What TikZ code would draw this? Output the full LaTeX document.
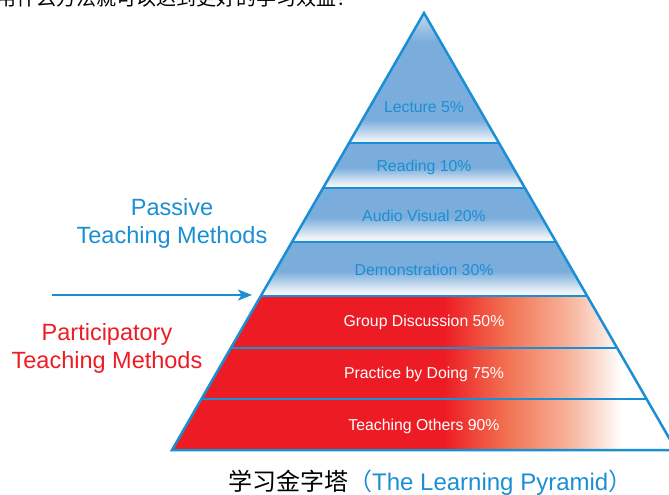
\documentclass[tikz,border=0pt]{standalone}
\usepackage{fontspec}
\setmainfont{Liberation Sans}
\newfontfamily\cjk{Noto Sans CJK SC}
\usetikzlibrary{calc,arrows.meta}
\definecolor{pblue}{HTML}{1A8FD3}
\definecolor{bandblue}{HTML}{7AADDC}
\definecolor{tipblue}{HTML}{C4D9EE}
\definecolor{paleblue}{HTML}{EEF3F8}
\definecolor{pred}{HTML}{ED1C24}
\definecolor{redA}{HTML}{F26F50}
\definecolor{redB}{HTML}{F7B59D}
\definecolor{redC}{HTML}{FCE5DC}
\pgfdeclareverticalshading{tipfade}{100bp}{color(0bp)=(paleblue); color(26bp)=(paleblue); color(34bp)=(bandblue); color(64bp)=(bandblue); color(75bp)=(tipblue); color(100bp)=(tipblue)}
\pgfdeclareverticalshading{bandfade}{100bp}{color(0bp)=(white); color(29bp)=(paleblue); color(48bp)=(bandblue); color(100bp)=(bandblue)}
\pgfdeclarehorizontalshading{redfade}{100bp}{color(0bp)=(pred); color(52bp)=(pred); color(58bp)=(redA); color(64.5bp)=(redB); color(67.8bp)=(redC); color(69.5bp)=(white); color(100bp)=(white)}
\tikzset{pline/.style={draw=pblue, line width=2.5pt},
  blabel/.style={text=pblue, inner sep=0pt, font=\fontsize{15.8}{18}\selectfont},
  rlabel/.style={blabel, text=white},
  sidelabel/.style={align=center, inner sep=0pt, font=\fontsize{23.5}{28}\selectfont}}

\begin{document}
\begin{tikzpicture}[x=1pt,y=-1pt]
  \useasboundingbox (0,0) rectangle (669,495);
  \clip (0,0) rectangle (669,495);

  \node[anchor=base west, inner sep=0pt, font=\cjk\fontsize{20}{24}\selectfont] (intro) at (-4,6) {用什么方法就可以达到更好的学习效益？};

  \coordinate (top) at (424,13);
  \coordinate (bl) at (172,450);
  \coordinate (br) at (676,450);
  \foreach \y [count=\i] in {143,188,242,296,348,399}
    {\coordinate (L\i) at ($(top)!{(\y-13)/437}!(bl)$);
     \coordinate (R\i) at ($(top)!{(\y-13)/437}!(br)$);}

  % passive layers
  \shade[shading=tipfade] (top) -- (L1) -- (R1) -- cycle;
  \shade[shading=bandfade] (L1) -- (L2) -- (R2) -- (R1) -- cycle;
  \shade[shading=bandfade] (L2) -- (L3) -- (R3) -- (R2) -- cycle;
  \shade[shading=bandfade] (L3) -- (L4) -- (R4) -- (R3) -- cycle;
  % participatory layers
  \shade[shading=redfade] (L4) -- (bl) -- (br) -- (R4) -- cycle;

  \draw[pline] (top) -- (bl) -- (br) -- cycle;
  \foreach \i in {1,...,6} \draw[pline] (L\i) -- (R\i);

  \node[blabel] (lecture) at (424,107) {Lecture 5\%};
  \node[blabel] (reading) at (424,167) {Reading 10\%};
  \node[blabel] (audio) at (424,216) {Audio Visual 20\%};
  \node[blabel] (demo) at (424,270) {Demonstration 30\%};
  \node[rlabel] (group) at (424,322) {Group Discussion 50\%};
  \node[rlabel] (practice) at (424,374) {Practice by Doing 75\%};
  \node[rlabel] (teaching) at (424,426) {Teaching Others 90\%};

  \node[sidelabel, text=pblue] (passive) at (172,223) {Passive\\Teaching Methods};
  \node[sidelabel, text=pred] (particip) at (107,348) {Participatory\\Teaching Methods};

  \coordinate (arrowtail) at (52,295);
  \coordinate (arrowhead) at (252,295);
  \draw[pblue, line width=2pt, -{Stealth[length=14pt,width=11pt,inset=3.5pt]}] (arrowtail) -- (arrowhead);

  \node[anchor=base west, inner sep=0pt, font=\fontsize{24}{28}\selectfont] (title) at (228,490)
    {{\cjk 学习金字塔}\textcolor{pblue}{{\cjk （}The Learning Pyramid{\cjk ）}}};
\end{tikzpicture}
\end{document}
